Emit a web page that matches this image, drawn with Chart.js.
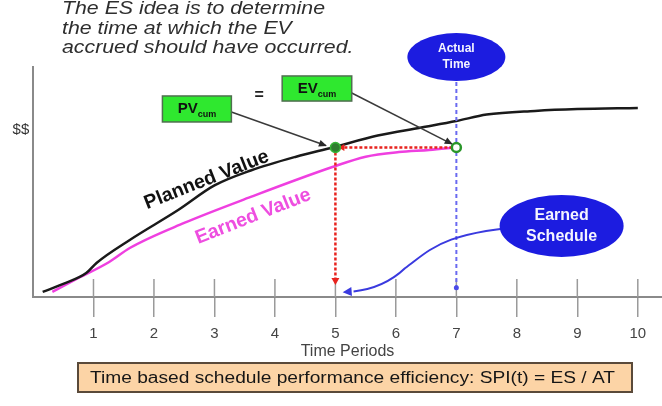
<!DOCTYPE html>
<html><head><meta charset="utf-8">
<script src="https://cdn.jsdelivr.net/npm/chart.js@4.4.0/dist/chart.umd.min.js"></script>
<style>html,body{margin:0;padding:0;background:#fff}#wrap{width:662px;height:406px;position:relative}</style>
</head><body><div id="wrap"><canvas id="c" width="662" height="406"></canvas></div>
<script>
// ---- data ----
const xTicks = [1, 2, 3, 4, 5, 6, 7, 8, 9, 10];
const pvX = [0.16, 0.5, 0.88, 1.05, 1.6, 2.4, 3.0, 3.6, 4.35, 4.95, 5.7, 6.4, 7.0, 7.5, 8.3, 9.0, 10.0];
const pvY = [2.2, 5.7, 10.4, 14.8, 24.8, 37.8, 48.5, 55, 61, 65, 70.2, 73.6, 76.5, 79.3, 80.9, 81.7, 82.2];
const evX = [0.32, 0.69, 1.26, 1.6, 2.5, 3.6, 4.95, 5.5, 6.05, 6.55, 7.0];
const evY = [2.2, 7.4, 15.2, 21.3, 32.2, 43.5, 56.5, 61.0, 63.0, 63.9, 65];
const actualTime = 7;
const earnedSchedule = 5;
const evCum = 65;
const titleLines = ['The ES idea is to determine', 'the time at which the EV', 'accrued should have occurred.'];
const xTitle = 'Time Periods';
const noteText = 'Time based schedule performance efficiency: SPI(t) = ES / AT';

const FF = "'Liberation Sans', Arial, sans-serif";

function arrowHead(ctx, x1, y1, x2, y2, len, wid, color) {
  const a = Math.atan2(y2 - y1, x2 - x1);
  ctx.save();
  ctx.fillStyle = color;
  ctx.setLineDash([]);
  ctx.beginPath();
  ctx.moveTo(x2, y2);
  ctx.lineTo(x2 - len * Math.cos(a) + wid * Math.sin(a), y2 - len * Math.sin(a) - wid * Math.cos(a));
  ctx.lineTo(x2 - len * Math.cos(a) - wid * Math.sin(a), y2 - len * Math.sin(a) + wid * Math.cos(a));
  ctx.closePath();
  ctx.fill();
  ctx.restore();
}

const anno = {
  id: 'anno',
  afterDatasetsDraw(chart) {
    const {ctx, scales: {x, y}, chartArea} = chart;
    const X = v => x.getPixelForValue(v), Y = v => y.getPixelForValue(v);
    ctx.save();
    // upward parts of tick marks
    ctx.strokeStyle = '#9a9a9a'; ctx.lineWidth = 1.5;
    xTicks.forEach(t => { ctx.beginPath(); ctx.moveTo(X(t), chartArea.bottom); ctx.lineTo(X(t), chartArea.bottom - 18); ctx.stroke(); });

    // blue dashed actual time line
    ctx.strokeStyle = '#6a6af0'; ctx.lineWidth = 2; ctx.setLineDash([4, 3]);
    ctx.beginPath(); ctx.moveTo(X(actualTime), Y(93.5)); ctx.lineTo(X(actualTime), Y(4.5)); ctx.stroke();
    ctx.setLineDash([]);
    ctx.fillStyle = '#4a4ae8';
    ctx.beginPath(); ctx.arc(X(actualTime), Y(4), 2.5, 0, Math.PI * 2); ctx.fill();

    // red dotted lines
    ctx.strokeStyle = '#e8231e'; ctx.lineWidth = 2.5; ctx.setLineDash([3, 2]);
    ctx.beginPath(); ctx.moveTo(X(actualTime) - 4, Y(evCum)); ctx.lineTo(X(earnedSchedule) + 6, Y(evCum)); ctx.stroke();
    ctx.beginPath(); ctx.moveTo(X(earnedSchedule), Y(evCum) + 5); ctx.lineTo(X(earnedSchedule), Y(7)); ctx.stroke();
    ctx.setLineDash([]);
    arrowHead(ctx, X(earnedSchedule) + 12, Y(evCum), X(earnedSchedule) + 3, Y(evCum), 6, 3.5, '#e8231e');
    arrowHead(ctx, X(earnedSchedule), Y(10), X(earnedSchedule), Y(5.2), 7, 4, '#e8231e');

    // blue earned schedule curve
    ctx.strokeStyle = '#3a3adf'; ctx.lineWidth = 2;
    ctx.beginPath();
    ctx.moveTo(X(8.27), Y(30.9));
    ctx.bezierCurveTo(X(6.75), Y(28.5), X(6.55), Y(20), X(6.15), Y(12.5));
    ctx.bezierCurveTo(X(5.85), Y(5), X(5.5), Y(3), X(5.3), Y(2.4));
    ctx.stroke();
    arrowHead(ctx, X(5.5), Y(2.8), X(5.12), Y(2.1), 9, 4.5, '#3a3adf');

    // black pointer arrows
    ctx.strokeStyle = '#3a3a3a'; ctx.lineWidth = 1.5;
    ctx.beginPath(); ctx.moveTo(X(3.28), Y(80.4)); ctx.lineTo(X(4.84), Y(65.9)); ctx.stroke();
    arrowHead(ctx, X(3.28), Y(80.4), X(4.86), Y(65.7), 8, 3.5, '#2a2a2a');
    ctx.beginPath(); ctx.moveTo(X(5.27), Y(88.7)); ctx.lineTo(X(6.93), Y(66.5)); ctx.stroke();
    arrowHead(ctx, X(5.27), Y(88.7), X(6.94), Y(66.4), 8, 3.5, '#2a2a2a');

    // green points
    ctx.fillStyle = '#2e7d2e'; ctx.strokeStyle = '#36b536'; ctx.lineWidth = 1.5;
    ctx.beginPath(); ctx.arc(X(earnedSchedule), Y(evCum), 5, 0, Math.PI * 2); ctx.fill(); ctx.stroke();
    ctx.fillStyle = '#ffffff'; ctx.strokeStyle = '#2a962a'; ctx.lineWidth = 2.5;
    ctx.beginPath(); ctx.arc(X(actualTime), Y(evCum), 4.5, 0, Math.PI * 2); ctx.fill(); ctx.stroke();

    // green boxes
    function gbox(x0, x1, y0, y1, main) {
      const L = X(x0), R = X(x1), T = Y(y0), B = Y(y1);
      ctx.fillStyle = '#2fe82f'; ctx.strokeStyle = '#4f6f4f'; ctx.lineWidth = 1.5;
      ctx.fillRect(L, T, R - L, B - T); ctx.strokeRect(L, T, R - L, B - T);
      ctx.fillStyle = '#111';
      ctx.font = 'bold 15px ' + FF; ctx.textBaseline = 'alphabetic'; ctx.textAlign = 'left';
      const w1 = ctx.measureText(main).width;
      ctx.font = 'bold 9px ' + FF;
      const w2 = ctx.measureText('cum').width;
      const sx = (L + R) / 2 - (w1 + w2) / 2;
      const by = (T + B) / 2 + 4;
      ctx.font = 'bold 15px ' + FF; ctx.fillText(main, sx, by);
      ctx.font = 'bold 9px ' + FF; ctx.fillText('cum', sx + w1, by + 4);
    }
    gbox(2.14, 3.28, 87.4, 76.1, 'PV');
    gbox(4.12, 5.27, 96.1, 85.2, 'EV');
    ctx.fillStyle = '#222'; ctx.font = 'bold 16px ' + FF; ctx.textAlign = 'center'; ctx.textBaseline = 'middle';
    ctx.fillText('=', X(3.74), Y(87.5));

    // ellipses
    function ell(cx, cy, rx, ry, lines, fs, dy) {
      ctx.fillStyle = '#1c1ce0';
      ctx.beginPath(); ctx.ellipse(X(cx), Y(cy), rx, ry, 0, 0, Math.PI * 2); ctx.fill();
      ctx.fillStyle = '#f4f4ff'; ctx.font = 'bold ' + fs + 'px ' + FF; ctx.textAlign = 'center'; ctx.textBaseline = 'middle';
      lines.forEach((t, i) => ctx.fillText(t, X(cx), Y(cy) + (i - (lines.length - 1) / 2) * dy));
    }
    ell(actualTime, 104.3, 49, 24, ['Actual', 'Time'], 12, 16);
    ell(8.74, 30.9, 62, 31, ['Earned', 'Schedule'], 16, 21);

    // rotated curve labels
    function rot(text, cx, cy, col, fs) {
      ctx.save();
      ctx.translate(X(cx), Y(cy)); ctx.rotate(-21.5 * Math.PI / 180);
      ctx.fillStyle = col; ctx.font = 'bold ' + fs + 'px ' + FF; ctx.textAlign = 'center'; ctx.textBaseline = 'middle';
      ctx.fillText(text, 0, 0);
      ctx.restore();
    }
    rot('Planned Value', 2.87, 50.9, '#111', 19.5);
    rot('Earned Value', 3.64, 35.0, '#ee4ee0', 19.5);

    // $$ label
    ctx.fillStyle = '#333'; ctx.font = '15px ' + FF; ctx.textAlign = 'center'; ctx.textBaseline = 'middle';
    ctx.fillText('$$', X(-0.2), Y(72.6));

    // title lines (italic)
    ctx.font = 'italic 19px ' + FF; ctx.fillStyle = '#2e2e2e'; ctx.textAlign = 'left'; ctx.textBaseline = 'middle';
    const sxT = 263 / ctx.measureText(titleLines[0]).width;
    const ty = [9, 29, 48];
    titleLines.forEach((t, i) => {
      ctx.save(); ctx.translate(62, ty[i]); ctx.scale(sxT, 1); ctx.fillText(t, 0, 0); ctx.restore();
    });

    // note box
    const bl = 78, br = 632, bt = 363, bb = 392;
    ctx.fillStyle = '#fcd4a6'; ctx.fillRect(bl, bt, br - bl, bb - bt);
    ctx.strokeStyle = '#5a4a3a'; ctx.lineWidth = 2; ctx.strokeRect(bl, bt, br - bl, bb - bt);
    ctx.fillStyle = '#161616'; ctx.font = '16px ' + FF; ctx.textAlign = 'left'; ctx.textBaseline = 'middle';
    const nw = ctx.measureText(noteText).width;
    const sxN = 525 / nw;
    ctx.save(); ctx.translate(90, (bt + bb) / 2 + 1); ctx.scale(sxN, 1); ctx.fillText(noteText, 0, 0); ctx.restore();

    ctx.restore();
  }
};

new Chart(document.getElementById('c'), {
  type: 'scatter',
  data: {
    datasets: [
      { label: 'Planned Value', data: pvX.map((v, i) => ({x: v, y: pvY[i]})), showLine: true, borderColor: '#1a1a1a', borderWidth: 2.5, pointRadius: 0, cubicInterpolationMode: 'monotone' },
      { label: 'Earned Value', data: evX.map((v, i) => ({x: v, y: evY[i]})), showLine: true, borderColor: '#ef3fe0', borderWidth: 2.5, pointRadius: 0, cubicInterpolationMode: 'monotone' }
    ]
  },
  options: {
    responsive: false, animation: false, devicePixelRatio: 1,
    layout: { padding: { top: 67, right: 0, bottom: 39, left: 0 } },
    plugins: { legend: { display: false }, tooltip: { enabled: false } },
    scales: {
      x: {
        type: 'linear', min: 0, max: 10.4,
        afterBuildTicks: s => { s.ticks = xTicks.map(v => ({value: v})); },
        afterFit: s => { s.height = 70; },
        ticks: { color: '#444', font: { size: 15, family: FF }, padding: 8, maxRotation: 0, autoSkip: false },
        grid: { drawOnChartArea: false, drawTicks: true, tickLength: 20, color: '#9a9a9a', lineWidth: 1.5 },
        border: { color: '#8a8a8a', width: 2 },
        title: { display: true, text: xTitle, color: '#444', font: { size: 16, family: FF }, padding: { top: 0, bottom: 6 } }
      },
      y: {
        min: 0, max: 100,
        afterFit: s => { s.width = 33; },
        ticks: { display: false },
        grid: { display: false },
        border: { color: '#8a8a8a', width: 2 }
      }
    }
  },
  plugins: [anno]
});
</script>
</body></html>
